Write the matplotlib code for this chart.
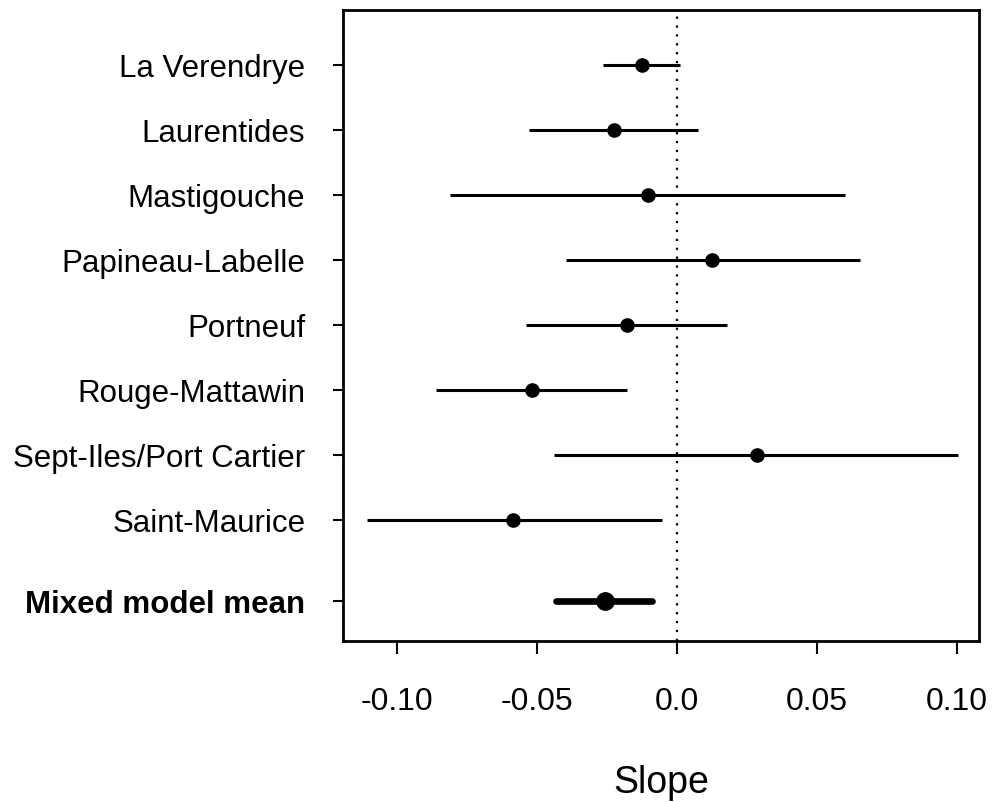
import matplotlib
matplotlib.use("Agg")
import matplotlib.pyplot as plt

plt.rcParams['font.family'] = ['Liberation Sans', 'DejaVu Sans']

# data
sites = ["La Verendrye", "Laurentides", "Mastigouche", "Papineau-Labelle",
         "Portneuf", "Rouge-Mattawin", "Sept-Iles/Port Cartier", "Saint-Maurice"]
slope = [-0.0125, -0.0224, -0.0104, 0.0125, -0.0179, -0.0518, 0.0287, -0.0585]
low = [-0.0263, -0.0526, -0.081, -0.0396, -0.054, -0.086, -0.0438, -0.1107]
high = [0.0012, 0.0077, 0.060, 0.0654, 0.0179, -0.0179, 0.1005, -0.0053]

mean_label = "Mixed model mean"
mean_slope = -0.0256
mean_low = -0.0430
mean_high = -0.0088

ypos = list(range(1, len(sites) + 1))
mean_pos = 9.25

fig = plt.figure(figsize=(9.92, 8.02), dpi=100)
ax = fig.add_axes([0.3458, 0.2007, 0.6411, 0.7868])

for y, s, lo, hi in zip(ypos, slope, low, high):
    ax.plot([lo, hi], [y, y], color="black", lw=2.2, solid_capstyle="butt")
    ax.plot(s, y, "o", color="black", ms=9.5)

ax.plot([mean_low, mean_high], [mean_pos, mean_pos], color="black", lw=4.8,
        solid_capstyle="round")
ax.plot(mean_slope, mean_pos, "o", color="black", ms=12.5)

ax.axvline(0, color="black", lw=1.6, linestyle=(0, (1, 3)))

ax.set_xlim(-0.1192, 0.108)
ax.set_ylim(9.86, 0.15)

ax.set_yticks(ypos + [mean_pos])
ax.set_yticklabels(sites + [mean_label], fontsize=22.5)
ax.get_yticklabels()[-1].set_fontweight("bold")
ax.set_xticks([-0.10, -0.05, 0.0, 0.05, 0.10])
ax.set_xticklabels(["-0.10", "-0.05", "0.0", "0.05", "0.10"], fontsize=23)

ax.tick_params(axis="y", length=7.2, width=1.5, pad=20)
ax.tick_params(axis="x", length=9.4, width=1.5, pad=24)
for sp in ax.spines.values():
    sp.set_linewidth(2)

ax.set_xlabel("Slope", fontsize=27, labelpad=34)

fig.savefig("out.png", dpi=100)
